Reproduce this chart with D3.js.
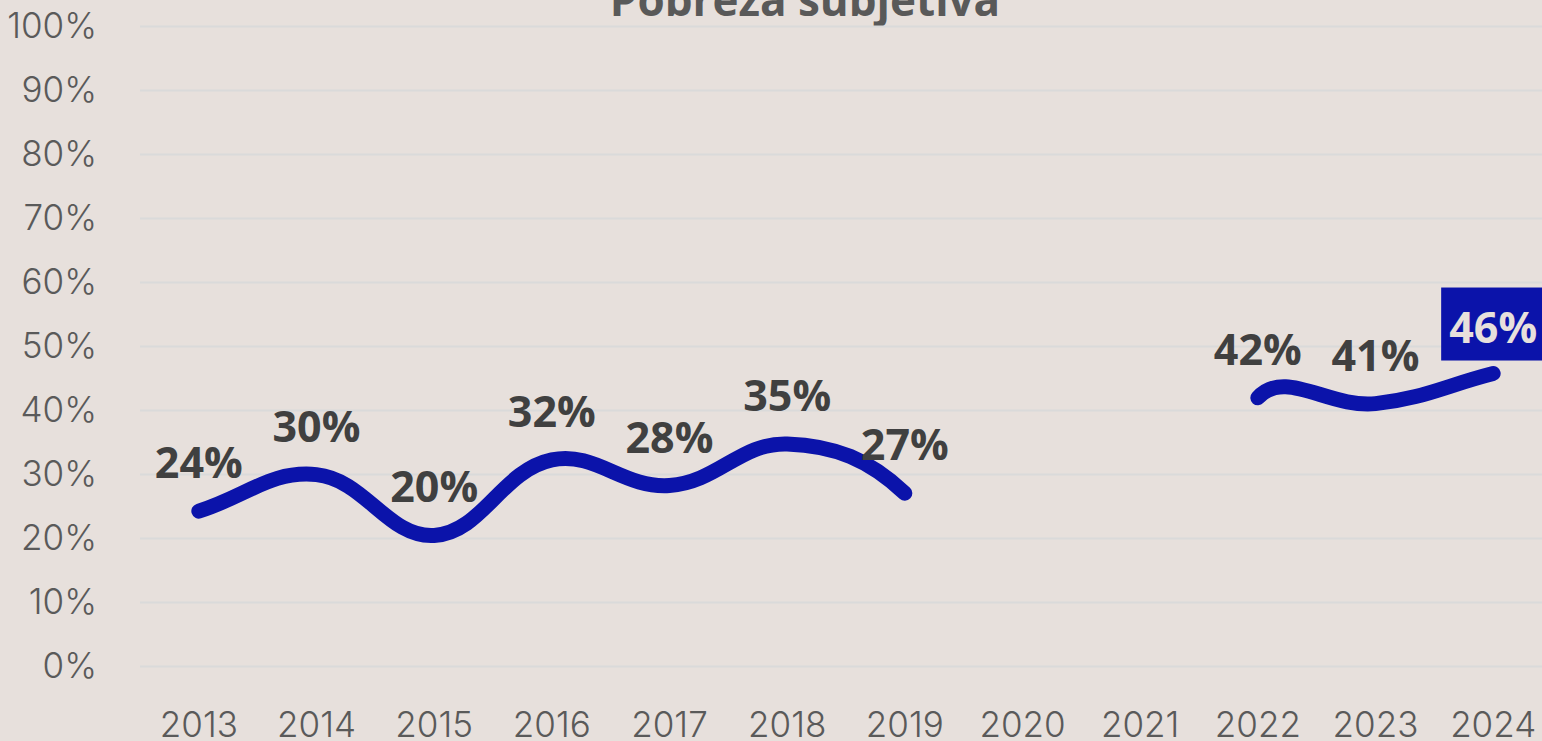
<!DOCTYPE html>
<html><head><meta charset="utf-8">
<script src="https://cdn.jsdelivr.net/npm/d3@7"></script>
<style>
html,body{margin:0;padding:0;background:#e7e0dc;overflow:hidden}
svg{display:block}
</style></head><body>
<svg id="chart" width="1542" height="741"></svg>
<script>
const title = "Pobreza subjetiva";
const years = ["2013","2014","2015","2016","2017","2018","2019","2020","2021","2022","2023","2024"];
const values = [24.2, 29.9, 20.4, 32.2, 28.2, 34.7, 27.0, null, null, 41.9, 41.0, 45.7];
const yTicks = [0,10,20,30,40,50,60,70,80,90,100];

const W = 1542, H = 741;
const svg = d3.select("#chart");
const x = d3.scaleBand().domain(years).range([140, 1552]).padding(0);
const y = d3.scaleLinear().domain([0, 100]).range([666, 26]);
const cx = d => x(d) + x.bandwidth() / 2;

// title (partly above the top edge, as in the reference)
svg.append("text").attr("x", 805).attr("y", 16)
  .attr("text-anchor", "middle")
  .style("font-family", "'Open Sans', sans-serif").style("font-weight", 700)
  .style("font-size", "44px").style("fill", "#595959").text(title);

// y axis + gridlines
const yAxis = svg.append("g").attr("transform", "translate(140,0)")
  .call(d3.axisLeft(y).tickValues(yTicks).tickSize(-(W - 140)).tickPadding(43)
    .tickFormat(d => d + "%"));
yAxis.select(".domain").remove();
yAxis.selectAll(".tick line").attr("stroke", "#dadada").attr("stroke-width", 2);
yAxis.selectAll(".tick text").style("font-family", "Inter, sans-serif").style("font-weight", 300)
  .style("font-size", "35px").style("fill", "#5a5a5a");

// x axis
const xAxis = svg.append("g").attr("transform", "translate(0,666)")
  .call(d3.axisBottom(x).tickSize(0).tickPadding(46));
xAxis.select(".domain").remove();
xAxis.selectAll(".tick text").style("font-family", "Inter, sans-serif").style("font-weight", 300)
  .style("font-size", "35px").style("fill", "#5a5a5a");

// spline points (missing values sit on the base line for control-point purposes)
const pts = years.map((yr, i) => ({
  x: cx(yr), y: values[i] == null ? y(0) : y(values[i]), skip: values[i] == null
}));
const tension = 0.4;
pts.forEach((p, i) => {
  const prev = pts[i - 1] || p, next = pts[i + 1] || p;
  const d01 = Math.hypot(p.x - prev.x, p.y - prev.y);
  const d12 = Math.hypot(next.x - p.x, next.y - p.y);
  let s01 = d01 / (d01 + d12), s12 = d12 / (d01 + d12);
  if (isNaN(s01)) s01 = 0; if (isNaN(s12)) s12 = 0;
  const fa = tension * s01, fb = tension * s12;
  p.cpPrev = [p.x - fa * (next.x - prev.x), p.y - fa * (next.y - prev.y)];
  p.cpNext = [p.x + fb * (next.x - prev.x), p.y + fb * (next.y - prev.y)];
});
const path = d3.path();
let started = false;
pts.forEach((p, i) => {
  if (p.skip) { started = false; return; }
  if (!started) { path.moveTo(p.x, p.y); started = true; return; }
  const q = pts[i - 1];
  path.bezierCurveTo(q.cpNext[0], q.cpNext[1], p.cpPrev[0], p.cpPrev[1], p.x, p.y);
});
svg.append("path").attr("d", path.toString()).attr("fill", "none")
  .attr("stroke", "#0b13aa").attr("stroke-width", 15)
  .attr("stroke-linecap", "round").attr("stroke-linejoin", "round");

// data labels
const data = years.map((yr, i) => ({ yr, v: values[i] })).filter(d => d.v != null);
const last = data[data.length - 1];
const fmt = v => d3.format(".0f")(v) + "%";
svg.append("g").selectAll("text").data(data.slice(0, -1)).join("text")
  .attr("x", d => cx(d.yr)).attr("y", d => y(d.v) - 33)
  .attr("text-anchor", "middle")
  .style("font-family", "'Open Sans', sans-serif").style("font-weight", 700)
  .style("font-size", "43px").style("fill", "#404040").text(d => fmt(d.v));

const lg = svg.append("g");
lg.append("rect").attr("x", cx(last.yr) - 52).attr("y", y(last.v) - 86)
  .attr("width", 106).attr("height", 73).attr("fill", "#0b13aa");
lg.append("text").attr("x", cx(last.yr)).attr("y", y(last.v) - 31)
  .attr("text-anchor", "middle")
  .style("font-family", "'Open Sans', sans-serif").style("font-weight", 700)
  .style("font-size", "43px").style("fill", "#e7e0dc").text(fmt(last.v));
</script>
</body></html>
